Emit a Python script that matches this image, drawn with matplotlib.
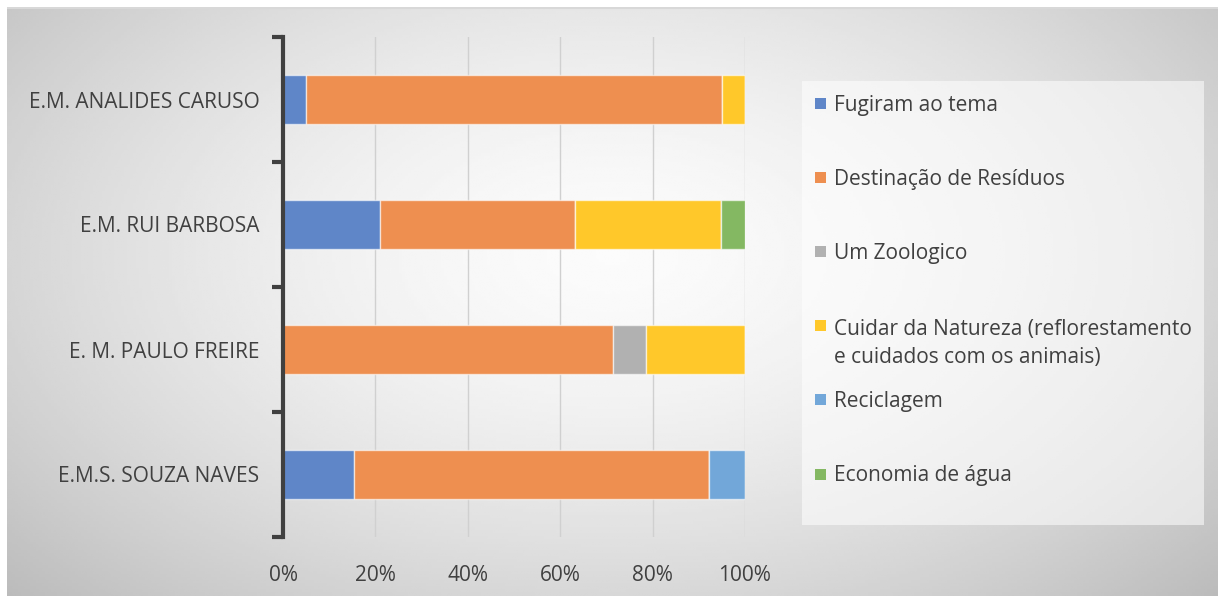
import numpy as np
import matplotlib
matplotlib.use("Agg")
import matplotlib.pyplot as plt
from matplotlib.patches import Rectangle
from matplotlib.ticker import FuncFormatter

plt.rcParams["font.family"] = ["Open Sans", "DejaVu Sans"]

# data (shares per school)
schools = ["E.M. ANALIDES CARUSO", "E.M. RUI BARBOSA", "E. M. PAULO FREIRE", "E.M.S. SOUZA NAVES"]
fugiram = [0.05, 0.2105, 0.0, 0.1538]
destinacao = [0.90, 0.4211, 0.7143, 0.7692]
zoologico = [0.0, 0.0, 0.0714, 0.0]
natureza = [0.05, 0.3158, 0.2143, 0.0]
reciclagem = [0.0, 0.0, 0.0, 0.0770]
agua = [0.0, 0.0526, 0.0, 0.0]

series = [fugiram, destinacao, zoologico, natureza, reciclagem, agua]
labels = ["Fugiram ao tema", "Destinação de Resíduos", "Um Zoologico",
          "Cuidar da Natureza (reflorestamento\ne cuidados com os animais)",
          "Reciclagem", "Economia de água"]
colors = ["#5f86c8", "#ee8f50", "#b1b1b1", "#ffc82a", "#72a7d9", "#84b862"]
xticks = [0, 0.2, 0.4, 0.6, 0.8, 1.0]

W, H = 1218, 596
FS = 15
fig = plt.figure(figsize=(W / 100, H / 100), dpi=100)
fig.patch.set_facecolor("white")

# gradient background of the chart area
bg = fig.add_axes([7 / W, 0, (W - 7) / W, (H - 7) / H])
gx, gy = np.meshgrid(np.linspace(0, 1, 400), np.linspace(0, 1, 200))
r = np.sqrt(((gx - 0.5) / 0.62) ** 2 + ((gy - 0.42) / 0.75) ** 2)
shade = np.clip(0.985 - 0.21 * r ** 1.6, 0, 1)
bg.imshow(shade, cmap="gray", vmin=0, vmax=1, aspect="auto", extent=[0, 1, 1, 0])
bg.axhline(0.002, color="#d8d8d8", lw=1.5)
bg.set_axis_off()

ax = fig.add_axes([283 / W, (H - 537) / H, (745 - 283) / W, 500 / H])
ax.patch.set_alpha(0)

y = np.arange(len(schools))
left = np.zeros(len(schools))
for vals, lab, col in zip(series, labels, colors):
    ax.barh(y, vals, left=left, height=0.39, color=col,
            edgecolor=(1, 1, 1, 0.6), linewidth=1, zorder=3)
    left += np.array(vals)

ax.set_xlim(0, 1)
ax.set_ylim(3.5, -0.5)
ax.set_xticks(xticks)
ax.xaxis.set_major_formatter(FuncFormatter(lambda v, p: f"{v * 100:.0f}%"))
ax.set_yticks(y)
ax.set_yticklabels(schools)
ax.set_yticks(np.arange(-0.5, 4, 1), minor=True)
ax.tick_params(axis="y", which="major", length=0, pad=17, labelsize=FS, labelcolor="#404040")
ax.tick_params(axis="y", which="minor", length=8, width=3, color="#404040")
ax.tick_params(axis="x", length=0, pad=20, labelsize=FS, labelcolor="#404040")
ax.grid(axis="x", color="#d0d0d0", lw=1, zorder=0)
for s in ["top", "right", "bottom"]:
    ax.spines[s].set_visible(False)
ax.spines["left"].set_color("#404040")
ax.spines["left"].set_linewidth(3)
ax.spines["left"].set_zorder(4)

# legend panel
lg = fig.add_axes([0, 0, 1, 1])
lg.set_xlim(0, W)
lg.set_ylim(H, 0)
lg.set_axis_off()
lg.add_patch(Rectangle((802, 81), 402, 444, facecolor="white", alpha=0.55, lw=0))
line_h = 1.45 * FS * 100 / 72
for i, (lab, col) in enumerate(zip(labels, colors)):
    yc = 103 + i * 74.2
    extra = lab.count("\n") * line_h
    lg.add_patch(Rectangle((815, yc - 5.5), 11, 11, facecolor=col, lw=0))
    lg.text(834, yc + 7.5 + extra, lab, fontsize=FS, color="#404040", va="baseline",
            ha="left", linespacing=1.45)

fig.savefig("out.png", dpi=100)
